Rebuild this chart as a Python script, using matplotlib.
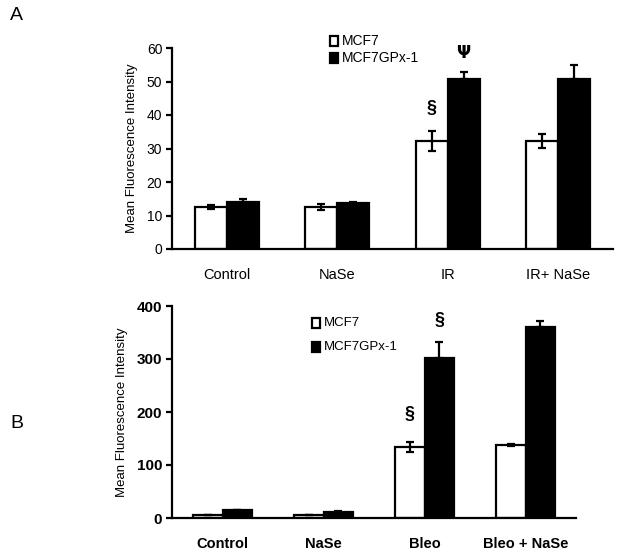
import matplotlib
matplotlib.use("Agg")
import matplotlib.pyplot as plt
import numpy as np

plt.rcParams['font.family'] = ['Liberation Sans', 'DejaVu Sans']

# Panel A data
cats_a = ["Control", "NaSe", "IR", "IR+ NaSe"]
mcf7_a = [12.5, 12.5, 32.2, 32.2]
mcf7_a_err = [0.5, 0.8, 3.0, 2.1]
gpx_a = [14.0, 13.8, 50.8, 50.8]
gpx_a_err = [0.9, 0.3, 2.0, 4.1]
yticks_a = [0, 10, 20, 30, 40, 50, 60]

# Panel B data
cats_b = ["Control", "NaSe", "Bleo", "Bleo + NaSe"]
mcf7_b = [6.0, 6.0, 134.0, 138.0]
mcf7_b_err = [0.5, 0.5, 9.5, 2.0]
gpx_b = [15.0, 12.0, 302.0, 360.0]
gpx_b_err = [1.0, 1.0, 30.0, 11.0]
yticks_b = [0, 100, 200, 300, 400]

series_names = ["MCF7", "MCF7GPx-1"]

fig = plt.figure(figsize=(6.24, 5.56), dpi=100)
W, H = 624, 556

def make_axes(l, r, b, t):
    return fig.add_axes([l / W, 1 - b / H, (r - l) / W, (b - t) / H])

def draw_panel(ax, cats, v1, e1, v2, e2, yticks, bold):
    x = np.arange(len(cats))
    w = 0.29
    ax.bar(x - w / 2, v1, w, color="white", edgecolor="black", linewidth=1.6, zorder=2)
    ax.bar(x + w / 2, v2, w, color="black", edgecolor="black", linewidth=1.6, zorder=2)
    ax.errorbar(x - w / 2, v1, yerr=e1, fmt="none", ecolor="black",
                elinewidth=1.6, capsize=3.2, capthick=1.6, zorder=3)
    ax.errorbar(x + w / 2, v2, yerr=[np.zeros(len(e2)), e2], fmt="none", ecolor="black",
                elinewidth=1.6, capsize=3.2, capthick=1.6, zorder=3)
    ax.set_xlim(-0.5, len(cats) - 0.5)
    ax.set_ylim(0, yticks[-1])
    ax.set_yticks(yticks)
    ax.set_xticks(x)
    fw = "bold" if bold else "normal"
    ax.set_xticklabels(cats, fontsize=10.5, fontweight=fw)
    ax.set_yticklabels([str(t) for t in yticks], fontsize=10 if not bold else 11, fontweight=fw)
    ax.tick_params(axis="x", length=0, pad=14)
    ax.tick_params(axis="y", length=4, width=1.6, direction="out", pad=3)
    for s in ["top", "right"]:
        ax.spines[s].set_visible(False)
    ax.spines["left"].set_linewidth(1.6)
    ax.spines["bottom"].set_linewidth(1.6)
    ax.set_ylabel("Mean Fluorescence Intensity", fontsize=9.5, labelpad=6)
    return x, w

# Panel A
axA = make_axes(172, 613, 249, 48)
xa, wa = draw_panel(axA, cats_a, mcf7_a, mcf7_a_err, gpx_a, gpx_a_err, yticks_a, False)
axA.text(xa[2] - wa / 2, 42, "§", ha="center", va="center", fontsize=13, fontweight="bold")
axA.text(xa[2] + wa / 2, 58.5, "Ψ", ha="center", va="center", fontsize=12, fontweight="bold",
         family="DejaVu Sans")
fig.text(10 / W, 1 - 16 / H, "A", fontsize=14, ha="left", va="center")

# Legend A (manual)
for i, (name, fc) in enumerate(zip(series_names, ["white", "black"])):
    yy = 41 + i * 17
    fig.patches.append(matplotlib.patches.Rectangle(((334 - 4.5) / W, 1 - (yy + 5) / H), 9 / W, 10 / H,
                                                    facecolor=fc, edgecolor="black", linewidth=1.6,
                                                    transform=fig.transFigure, figure=fig))
    fig.text(342 / W, 1 - yy / H, name, fontsize=10, ha="left", va="center")

# Panel B
axB = make_axes(172, 576, 518, 306)
xb, wb = draw_panel(axB, cats_b, mcf7_b, mcf7_b_err, gpx_b, gpx_b_err, yticks_b, True)
axB.text(xb[2] - wb / 2, 196, "§", ha="center", va="center", fontsize=13, fontweight="bold")
axB.text(xb[2] + wb / 2, 372, "§", ha="center", va="center", fontsize=13, fontweight="bold")
fig.text(10 / W, 1 - 424 / H, "B", fontsize=14, ha="left", va="center")

for i, (name, fc) in enumerate(zip(series_names, ["white", "black"])):
    yy = 323 + i * 24
    fig.patches.append(matplotlib.patches.Rectangle(((316 - 4.5) / W, 1 - (yy + 5) / H), 9 / W, 10 / H,
                                                    facecolor=fc, edgecolor="black", linewidth=1.6,
                                                    transform=fig.transFigure, figure=fig))
    fig.text(324 / W, 1 - yy / H, name, fontsize=9.5, ha="left", va="center")

fig.savefig("out.png", dpi=100)
